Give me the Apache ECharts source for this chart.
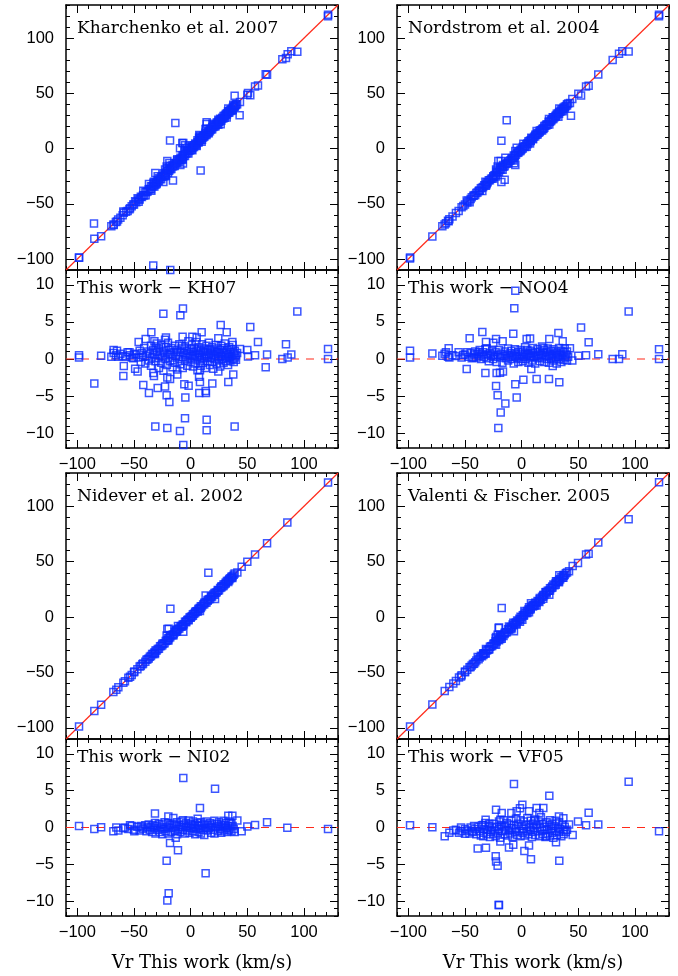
<!DOCTYPE html>
<html><head><meta charset="utf-8">
<script src="https://cdn.jsdelivr.net/npm/echarts@6/dist/echarts.min.js"></script>
<style>html,body{margin:0;padding:0;background:#fff}#c{width:678px;height:976px}</style>
</head><body><div id="c"></div><script>
// ---- data: [Vr this work, (this work - catalogue)] ----
const kh07 = [
[-98.5,0.5],[-98.5,0.2],[-85,-3.3],[-79,0.45],[-70,0.3],[-68,1.2],[-65,1.1],[-64,0.3],[-59,-0.95],[-59.4,-2.3],[-55.6,0.9],[-53.5,0.5],[-50.6,0.1],[-49,-1.3],[-46.8,-1.7],[-45.9,2.3],[-41.8,-3.5],[-39.7,2.7],[-36.8,-4.6],[-34.7,3.6],[-32.9,-1.9],[-32.4,-2.3],[-32,2.4],[-30.9,1.7],[-29.1,-3.9],[-31.2,-9.1],[-24.1,6.1],[-22.6,-3.7],[-21.2,-4.9],[-20.6,-9.3],[-18.8,-5.8],[-22.6,2.6],[-21.8,2.9],[-18.2,-2.7],[-20.6,-2.5],[-11.8,-2.1],[-9.4,-9.7],[-9.1,5.9],[-6.8,6.8],[-7.1,3.0],[-6.5,-11.6],[-5,-8.0],[-5.6,-3.4],[-4.7,-5.2],[-1.8,-3.6],[-7.4,1.8],[1.5,3.0],[5.3,2.9],[7.4,-2.4],[8.2,-3.1],[7.6,-4.6],[9.7,3.6],[8.2,-1.5],[13.2,-4.3],[13.5,-4.6],[14.1,-8.2],[14.1,-9.6],[19.1,-3.3],[24.4,2.8],[24.4,-1.7],[26.5,4.6],[31.8,3.6],[33.2,-3.1],[37.6,-2.1],[36.8,2.3],[38.8,-9.1],[43.5,1.35],[50,1.2],[50.6,0.35],[52.6,4.3],[56.8,0.5],[59.4,2.3],[66.2,-1.1],[67.4,0.6],[80.9,0.0],[84.1,2.0],[85.6,0.2],[88.8,0.6],[94.1,6.4],[121.2,1.35],[121.2,0.0],
[-68,0.8],[-66,0.5],[-62,0.7],[-60,0.4],[-57,0.3],[-54,0.9],[-52,0.2],[-50,0.7],
[-48,0.6],[-46,0.2],[-45,1.1],[-44,-0.4],[-43,0.8],[-42,0.3],[-41,1.5],[-40,-0.6],[-39,0.4],[-38,1.0],[-37,-0.2],[-36,0.7],[-35,1.8],[-35,-0.9],[-34,0.2],[-33,1.2],[-32,0.5],[-31,-0.3],[-30,0.9],[-30,2.1],[-29,0.1],[-28,1.4],[-28,-1.2],[-27,0.6],[-26,-0.5],[-26,1.9],[-25,0.3],[-24,1.1],[-24,-1.6],[-23,0.8],[-22,0.0],[-22,1.6],[-21,-0.8],[-20,0.5],[-20,2.2],[-19,1.2],[-18,-0.3],[-18,0.7],[-17,1.5],[-16,-1.1],[-16,0.2],[-15,0.9],[-14,1.8],[-14,-0.5],[-13,0.4],[-12,1.2],[-12,-1.4],[-11,0.6],[-10,0.0],[-10,2.0],[-9,0.9],[-9,-0.7],[-8,1.4],[-7,0.3],[-7,-1.2],[-6,0.8],[-5,1.7],[-5,-0.2],[-4,0.5],[-3,1.1],[-3,-0.9],[-2,0.2],[-2,2.4],[-1,0.7],[0,1.3],[0,-0.4],[1,0.4],[1,1.9],[2,-1.0],[2,0.9],[3,0.1],[3,1.5],[4,0.6],[4,-0.6],[5,1.1],[5,2.3],[6,0.3],[6,-1.5],[7,0.8],[7,1.6],[8,-0.2],[8,0.5],[9,1.2],[9,-0.9],[10,0.2],[10,2.0],[11,0.9],[11,-0.5],[12,1.4],[12,0.1],[13,-1.2],[13,0.7],[14,1.8],[14,0.3],[15,-0.3],[15,1.0],[16,0.5],[16,2.2],[17,-0.8],[17,1.3],[18,0.2],[18,0.8],[19,1.6],[19,-0.4],[20,0.6],[20,-1.3],[21,1.1],[21,0.0],[22,0.4],[22,1.9],[23,-0.6],[23,0.9],[24,0.2],[24,1.4],[25,-0.2],[25,0.7],[26,1.2],[26,-1.0],[27,0.4],[27,1.8],[28,0.0],[28,0.9],[29,-0.5],[29,1.5],[30,0.3],[30,2.1],[31,0.8],[31,-0.3],[32,1.2],[32,0.1],[33,0.6],[33,-0.8],[34,1.6],[34,0.3],[35,0.9],[35,-0.2],[36,1.3],[36,0.4],[37,0.0],[37,1.9],[38,0.7],[38,-0.4],[39,0.2],[39,1.1],[40,0.5],[40,-0.1],[41,0.8],
[-13.5,-36.7],[8.8,28.7],[-33,73],[-18,92],[-85.3,-17.5],[43.2,13.1],[-18.2,-25.4],[-7.4,-12.5],[-15.6,13.3]
];
const no04 = [
[-98.5,1.1],[-98.5,0.2],[-78.8,0.75],[-70,0.45],[-66.8,0.9],[-64.4,1.45],[-63.8,0.2],[-55.6,0.9],[-51.5,0.55],[-48.5,-1.35],[-45.9,2.8],[-42.6,0.2],[-37.4,0.9],[-34.7,3.65],[-32,-1.9],[-31.5,2.3],[-30.9,1.45],[-25,2.2],[-22.6,2.7],[-22.6,-3.65],[-21.2,-4.9],[-22.1,-1.9],[-19.1,-1.85],[-16.5,-1.7],[-18.5,-7.2],[-20.6,-9.3],[-14.4,-6.0],[-16.8,2.4],[-7.4,3.4],[-6.5,6.85],[-5.6,9.2],[-5.6,-3.4],[-4.4,-5.2],[1.5,-2.8],[4.4,2.7],[7.4,2.75],[8.5,-1.35],[13.2,-2.7],[19.1,1.5],[24.1,-2.7],[24.4,2.7],[27.4,-0.95],[32.4,3.5],[33.2,-3.15],[36.2,2.4],[42.6,1.45],[44.7,-0.2],[50,0.45],[52.4,4.25],[56.8,0.5],[59.1,2.25],[67.6,0.65],[80.3,0],[85.9,0],[88.8,0.65],[94.4,6.4],[121.2,0],[121.2,1.3],
[-68,0.7],[-65,0.3],[-61,0.5],[-58,0.4],[-53,0.2],[-50,0.6],[-48,0.9],
[-47,0.3],[-45,0.8],[-44,0.1],[-42,0.6],[-41,1.0],[-40,0.2],[-39,0.7],[-38,0.4],[-37,1.2],[-36,0.0],[-35,0.6],[-34,0.9],[-33,0.3],[-32,1.3],[-31,0.1],[-30,0.6],[-29,-0.3],[-28,0.8],[-27,0.4],[-26,1.1],[-25,0.0],[-25,0.6],[-24,0.3],[-23,0.9],[-22,-0.4],[-21,0.5],[-20,1.2],[-19,0.2],[-18,0.7],[-17,-0.5],[-16,0.4],[-15,1.0],[-14,0.1],[-13,0.6],[-12,1.4],[-12,-0.2],[-11,0.3],[-10,0.8],[-9,0.0],[-9,1.1],[-8,0.5],[-7,-0.6],[-6,0.3],[-6,1.3],[-5,0.7],[-4,0.1],[-3,0.9],[-3,-0.4],[-2,0.4],[-1,1.2],[-1,0.0],[0,0.6],[1,-0.3],[1,1.0],[2,0.3],[3,0.8],[3,1.6],[4,0.0],[5,0.5],[5,1.2],[6,-0.5],[6,0.7],[7,0.2],[8,1.1],[8,0.4],[9,-0.2],[10,0.8],[10,1.5],[11,0.3],[12,0.9],[12,-0.6],[13,0.4],[14,1.3],[14,0.1],[15,0.6],[16,-0.3],[16,1.0],[17,0.5],[18,1.7],[18,0.2],[19,0.8],[20,-0.4],[20,1.2],[21,0.4],[22,0.9],[22,0.0],[23,1.4],[24,0.3],[24,-0.5],[25,0.7],[26,1.1],[26,0.1],[27,0.5],[28,-0.2],[28,1.3],[29,0.6],[30,0.2],[30,1.0],[31,-0.6],[31,0.8],[32,0.3],[33,1.5],[33,0.0],[34,0.6],[35,-0.4],[35,1.1],[36,0.4],[37,0.9],[37,-0.1],[38,1.4],[38,0.2],[39,0.6],[40,-0.2],[40,1.0],[41,0.3],
[-13.2,-38.8],[-17.9,-25],[-17.9,12.5],[-15,13.3],[43.5,13.7]
];
const ni02 = [
[-98.5,0.2],[-85,-0.2],[-79,0.05],[-68.2,-0.5],[-65.6,0],[-63.8,-0.4],[-59.4,-0.1],[-53.5,0.3],[-49.7,-0.5],[-42.6,0],[-31.5,1.9],[-31.5,0.6],[-19.7,1.5],[-15.3,1.3],[-18.2,-2.1],[-21.2,-4.5],[-19.4,-8.9],[-20.6,-9.9],[-11.2,-3.1],[-13.2,-1.4],[-6.5,6.7],[-6.8,1.0],[-1.8,0.95],[6.2,1.2],[8.2,2.65],[13.2,-6.2],[21.5,5.25],[33.2,1.6],[36.8,1.6],[41.2,0.95],[38.8,-0.6],[45,-0.5],[50,0.15],[56.8,0.35],[67.4,0.7],[85.3,-0.05],[121.2,-0.2],
[-58,0.0],[-55,-0.2],[-52,0.2],[-50,-0.3],[-47,0.1],[-45,-0.4],[-44,0.2],[-42,-0.2],[-40,0.3],[-39,-0.5],[-38,0.0],[-37,0.4],[-36,-0.3],[-35,0.1],[-34,-0.6],[-33,0.3],[-32,-0.1],[-31,-0.8],[-30,0.2],[-29,-0.3],[-28,0.5],[-27,-0.6],[-26,0.0],[-25,-0.9],[-25,0.4],[-24,-0.2],[-23,0.7],[-22,-0.5],[-21,0.1],[-20,-0.8],[-20,0.6],[-19,-0.1],[-18,0.3],[-17,-0.6],[-16,0.0],[-15,0.5],[-14,-0.4],[-13,0.2],[-12,-0.9],[-12,0.7],[-11,-0.2],[-10,0.3],[-9,-0.6],[-8,0.1],[-8,0.8],[-7,-0.3],[-6,0.4],[-5,-0.8],[-4,0.0],[-4,0.6],[-3,-0.4],[-2,0.2],[-1,-0.7],[0,0.5],[0,-0.1],[1,0.3],[2,-0.5],[2,0.8],[3,0.0],[4,-0.9],[4,0.4],[5,-0.2],[6,0.6],[7,-0.6],[7,0.2],[8,-0.1],[9,0.7],[9,-0.8],[10,0.3],[11,-0.3],[12,0.5],[12,-1.0],[13,0.0],[14,0.8],[15,-0.4],[15,0.3],[16,-0.1],[17,0.6],[18,-0.7],[18,0.1],[19,0.4],[20,-0.3],[21,0.9],[21,-0.8],[22,0.0],[23,0.5],[24,-0.5],[24,0.2],[25,0.7],[26,-0.2],[27,0.4],[27,-0.7],[28,0.1],[29,0.9],[29,-0.4],[30,0.3],[31,-0.1],[31,0.6],[32,-0.6],[33,0.2],[34,0.8],[34,-0.3],[35,0.0],[36,0.5],[36,-0.5],[37,0.2],[38,-0.2],
[15.6,-24.5],[-17.9,-25.4]
];
const vf05 = [
[-98.5,0.3],[-78.8,0.05],[-67.9,-1.2],[-63.8,-0.7],[-60.3,-0.4],[-55.3,-0.7],[-53.5,0],[-50,-0.85],[-44.1,-0.5],[-42,0.2],[-38.8,-2.85],[-31.5,-2.75],[-31.8,1.05],[-33.8,0.35],[-33.8,-1.2],[-28.5,0.5],[-22.6,2.4],[-22.9,-3.9],[-22.6,-4.6],[-21.2,-5.2],[-20,-10.5],[-20.3,-10.5],[-18.8,1.05],[-17.6,1.95],[-18.8,-1.9],[-11.2,-2.7],[-9.1,1.95],[-7.4,-2.35],[-6.8,5.9],[-4.4,2.2],[-1.5,2.6],[0.6,3.1],[2.4,-3.2],[6.5,2.2],[6.5,-2.45],[8.2,-4.3],[11.2,0.95],[13.2,2.65],[15.6,1.95],[19.1,2.65],[24.4,4.3],[21.5,-1.2],[30.3,-2.0],[33.2,-4.5],[32.9,1.5],[36.8,1.25],[45,-1.0],[41.8,0.4],[49.7,0.8],[56.8,0.3],[59.1,2.0],[67.6,0.4],[94.4,6.2],[121.2,-0.5],
[-58,-0.3],[-53,-0.5],[-50,-0.2],
[-48,-0.4],[-46,-0.8],[-45,0.0],[-43,-0.6],[-41,-0.2],[-40,-0.9],[-38,0.1],[-37,-0.5],[-36,-1.1],[-35,0.3],[-34,-0.7],[-33,-0.2],[-32,0.6],[-31,-0.9],[-30,-0.3],[-29,0.2],[-28,-1.3],[-27,-0.6],[-26,0.0],[-25,-0.9],[-24,0.5],[-24,-0.4],[-23,-1.2],[-22,0.1],[-21,-0.7],[-20,0.8],[-20,-0.2],[-19,-1.4],[-18,0.3],[-17,-0.5],[-16,1.0],[-15,-0.9],[-15,0.2],[-14,-0.3],[-13,0.6],[-12,-1.1],[-11,-0.4],[-11,0.4],[-10,-0.8],[-9,0.9],[-9,-0.1],[-8,-1.3],[-7,0.3],[-6,-0.6],[-5,1.2],[-5,-0.2],[-4,-1.0],[-3,0.5],[-2,-0.5],[-1,1.0],[-1,-1.2],[0,0.2],[1,-0.7],[2,0.8],[2,-0.2],[3,-1.1],[4,0.4],[5,-0.5],[5,1.3],[6,-0.9],[7,0.1],[8,-0.3],[8,0.9],[9,-1.3],[10,0.5],[10,-0.6],[11,-0.1],[12,1.1],[12,-1.0],[13,0.3],[14,-0.5],[15,0.8],[16,-1.2],[16,0.0],[17,1.4],[18,-0.4],[19,0.5],[19,-0.9],[20,0.1],[21,-1.3],[22,0.7],[22,-0.3],[23,-0.8],[24,0.3],[25,-1.1],[25,1.0],[26,-0.2],[27,0.5],[27,-0.7],[28,-1.4],[29,0.2],[30,-0.5],[30,0.9],[31,-1.0],[32,0.0],[33,-0.6],[33,0.7],[34,-0.2],[35,-1.2],[36,0.4],[37,-0.4],[37,-0.9],[38,0.1],[39,-0.6],[40,-0.3],
[-17.6,-25.7]
];
const panelNames = ['Kharchenko et al. 2007','Nordstrom et al. 2004','Nidever et al. 2002','Valenti & Fischer. 2005'];
const diffNames = ['This work \u2212 KH07','This work \u2212 NO04','This work \u2212 NI02','This work \u2212 VF05'];
const xRange = [-110,130];
const topRange = [-110,130];
const resRange = [-12,12];
const xTicks = [-100,-50,0,50,100];
const topTicks = [-100,-50,0,50,100];
const resTicks = [-10,-5,0,5,10];
const diagLine = [[-110,-110],[130,130]];
const zeroLine = [[-110,0],[130,0]];
const xTitle = 'Vr This work (km/s)';

// ---- layout ----
const cols = [66,397], W = 272;
const blocks = [{top:5,h:265,rtop:270,rh:178},{top:473,h:266,rtop:739,rh:177}];
const BLUE = '#0b2cff', RED = '#ff2a1a';
const labelFont = {fontSize:16.5, fontFamily:'Liberation Sans, Arial, sans-serif', color:'#000'};
const fmt = v => v < 0 ? '\u2212' + Math.abs(v) : String(v);

const grids=[], xAxes=[], yAxes=[], series=[], graphics=[];
function axis(gi, pos, r, major, minorInt, labels, margin){
  const a = {type:'value', gridIndex:gi, position:pos, min:r[0], max:r[1],
    splitLine:{show:false},
    axisLine:{show:!!major, onZero:false, lineStyle:{color:'#000', width:1.5}},
    axisTick:{show:true, inside:true, length: major?8:4, lineStyle:{color:'#000', width:1}},
    axisLabel:Object.assign({show:!!labels, margin:margin, formatter:fmt}, labelFont)};
  if (major){ a.axisTick.customValues = major; a.axisLabel.customValues = major; }
  else { a.interval = minorInt; }
  return a;
}
function addGrid(left, top, h, yr, yMajor, yMinor, showX){
  const gi = grids.length;
  grids.push({left:left, top:top, width:W, height:h, containLabel:false, outerBoundsMode:'none'});
  const xi = xAxes.length, yi = yAxes.length;
  xAxes.push(axis(gi,'bottom',xRange,xTicks,null,showX,8));
  xAxes.push(axis(gi,'bottom',xRange,null,10,false,8));
  xAxes.push(axis(gi,'top',xRange,xTicks,null,false,8));
  xAxes.push(axis(gi,'top',xRange,null,10,false,8));
  yAxes.push(axis(gi,'left',yr,yMajor,null,true,12));
  yAxes.push(axis(gi,'left',yr,null,yMinor,false,12));
  yAxes.push(axis(gi,'right',yr,yMajor,null,false,12));
  yAxes.push(axis(gi,'right',yr,null,yMinor,false,12));
  return {xi:xi, yi:yi};
}
function scatter(ax, data){
  return {type:'scatter', xAxisIndex:ax.xi, yAxisIndex:ax.yi, data:data, clip:true,
    symbol:'rect', symbolSize:7, silent:true, z:3,
    itemStyle:{color:'rgba(0,0,0,0)', borderColor:BLUE, borderWidth:1.5}};
}
function line(ax, data, dashed){
  return {type:'line', xAxisIndex:ax.xi, yAxisIndex:ax.yi, data:data, showSymbol:false,
    silent:true, z:2, lineStyle:{color:RED, width:1.2, type: dashed ? [8,7] : 'solid'}};
}
const cats = [kh07, no04, ni02, vf05];
cats.forEach((pts, i) => {
  const col = i % 2, blk = blocks[Math.floor(i/2)];
  const left = cols[col];
  const axTop = addGrid(left, blk.top, blk.h, topRange, topTicks, 10, false);
  const axRes = addGrid(left, blk.rtop, blk.rh, resRange, resTicks, 1, true);
  series.push(line(axTop, diagLine, false));
  series.push(scatter(axTop, pts.map(p => [p[0], p[0] - p[1]])));
  series.push(line(axRes, zeroLine, true));
  series.push(scatter(axRes, pts));
  const tf = '17px "DejaVu Serif", serif';
  graphics.push({type:'text', x:left+11, y:blk.top+24, style:{text:panelNames[i], font:tf, fill:'#000', align:'left', verticalAlign:'middle'}, z:10});
  graphics.push({type:'text', x:left+11, y:blk.rtop+19, style:{text:diffNames[i], font:tf, fill:'#000', align:'left', verticalAlign:'middle'}, z:10});
  if (i >= 2) graphics.push({type:'text', x:left+W/2, y:963, style:{text:xTitle, font:'18px "DejaVu Serif", serif', fill:'#000', align:'center', verticalAlign:'middle'}});
});

const chart = echarts.init(document.getElementById('c'), null, {renderer:'canvas'});
chart.setOption({animation:false, backgroundColor:'#fff', grid:grids, xAxis:xAxes, yAxis:yAxes, series:series, graphic:graphics});
</script></body></html>
